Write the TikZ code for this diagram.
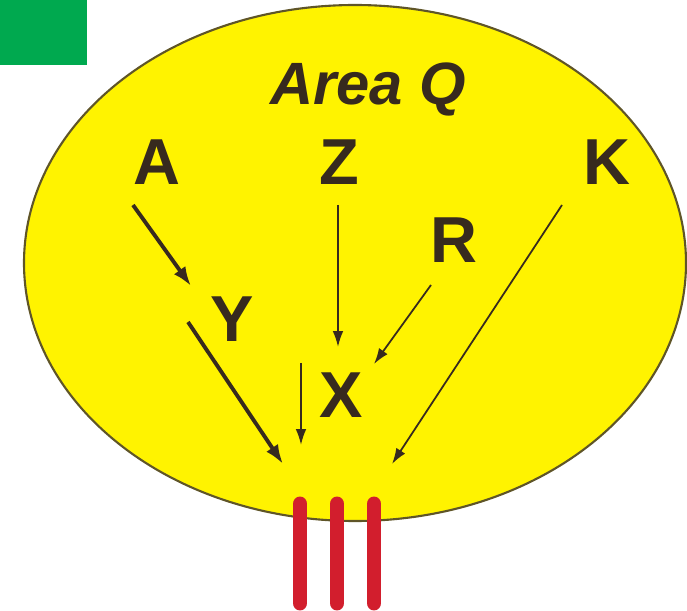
\documentclass[tikz,border=0pt]{standalone}
\usepackage{fontspec}
\setmainfont{Liberation Sans}
\usetikzlibrary{arrows.meta}
\definecolor{ink}{RGB}{55,42,30}
\definecolor{yel}{RGB}{255,243,0}
\definecolor{rim}{RGB}{95,85,40}
\definecolor{grn}{RGB}{0,169,79}
\definecolor{barred}{RGB}{210,30,45}
\tikzset{
  letter/.style={inner sep=0pt, anchor=base, text=ink, font=\fontsize{37}{37}\selectfont\bfseries},
  title/.style={inner sep=0pt, anchor=base, text=ink, font=\fontsize{34}{34}\selectfont\bfseries\itshape},
  thickarrow/.style={draw=ink, line width=2.2pt, -{Latex[length=11pt,width=8pt]}},
  thinarrow/.style={draw=ink, line width=1pt, -{Latex[length=9pt,width=6pt]}},
  redbar/.style={draw=barred, line width=8.5pt, line cap=round}
}
\begin{document}
\begin{tikzpicture}[x=0.02cm,y=-0.02cm]
\useasboundingbox (0,0) rectangle (687,611);
\fill[grn] (0,0) rectangle (87,65);
\filldraw[fill=yel, draw=rim, line width=1.2pt] (355,263) ellipse [x radius=331, y radius=258];
% red bars
\coordinate (b1t) at (300,504); \coordinate (b1b) at (300,603);
\coordinate (b2t) at (337,504); \coordinate (b2b) at (337,603);
\coordinate (b3t) at (374,504); \coordinate (b3b) at (374,603);
\draw[redbar] (b1t) -- (b1b);
\draw[redbar] (b2t) -- (b2b);
\draw[redbar] (b3t) -- (b3b);
% labels
\node[title] (areaq) at (368,105) {Area Q};
\node[letter] (A) at (157,185) {A};
\node[letter] (Z) at (339,185) {Z};
\node[letter] (K) at (607,185) {K};
\node[letter] (R) at (454,263) {R};
\node[letter] (Y) at (232,342) {Y};
\node[letter] (X) at (341,418) {X};
% arrow ends
\coordinate (a1s) at (133,205); \coordinate (a1e) at (191,286);
\coordinate (a2s) at (188,322); \coordinate (a2e) at (283,464);
\coordinate (a3s) at (338,205); \coordinate (a3e) at (338,347);
\coordinate (a4s) at (301,363); \coordinate (a4e) at (301,445);
\coordinate (a5s) at (431,285); \coordinate (a5e) at (374,364);
\coordinate (a6s) at (562,205); \coordinate (a6e) at (392,464);
\draw[thickarrow] (a1s) -- (a1e);
\draw[thickarrow] (a2s) -- (a2e);
\draw[thinarrow] (a3s) -- (a3e);
\draw[thinarrow] (a4s) -- (a4e);
\draw[thinarrow] (a5s) -- (a5e);
\draw[thinarrow] (a6s) -- (a6e);
\end{tikzpicture}
\end{document}
